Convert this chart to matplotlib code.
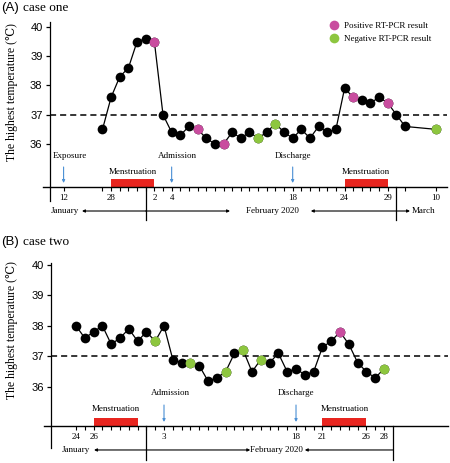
import numpy as np
import pandas as pd
import matplotlib
matplotlib.use("Agg")
import matplotlib.pyplot as plt
from matplotlib.lines import Line2D

plt.rcParams['font.family'] = ['Liberation Serif', 'DejaVu Serif']

# ── Data (day-of-year 2020: Jan d = d, Feb d = 31 + d, Mar d = 60 + d) ─────────
dates_a = pd.date_range("2020-01-27", "2020-03-02").append(pd.DatetimeIndex(["2020-03-10"]))
day_a = np.asarray(dates_a.dayofyear)
temp_a = [36.5, 37.6, 38.3, 38.6, 39.5,
          39.6, 39.5, 37.0, 36.4, 36.3, 36.6, 36.5, 36.2, 36.0, 36.0,
          36.4, 36.2, 36.4, 36.2, 36.4, 36.7, 36.4, 36.2, 36.5, 36.2,
          36.6, 36.4, 36.5, 37.9, 37.6, 37.5, 37.4, 37.6, 37.4,
          37.0, 36.6, 36.5]
pos_a = ["2020-02-02", "2020-02-07", "2020-02-10", "2020-02-25", "2020-02-29"]
neg_a = ["2020-02-14", "2020-02-16", "2020-03-10"]
mens_a = [("2020-01-28", "2020-02-02"), ("2020-02-24", "2020-02-29")]
events_a = [("Exposure", "2020-01-12"), ("Admission", "2020-02-04"), ("Discharge", "2020-02-18")]
ticks_a = ["2020-01-12"] + list(pd.date_range("2020-01-27", "2020-02-29").strftime("%Y-%m-%d")) + ["2020-03-02", "2020-03-10"]
ticklab_a = {"2020-01-12": "12", "2020-01-28": "28", "2020-02-02": "2", "2020-02-04": "4",
             "2020-02-18": "18", "2020-02-24": "24", "2020-02-29": "29", "2020-03-10": "10"}

dates_b = pd.date_range("2020-01-24", "2020-02-28")
day_b = np.asarray(dates_b.dayofyear)
temp_b = [38.0, 37.6, 37.8, 38.0, 37.4, 37.6, 37.9, 37.5,
          37.8, 37.5, 38.0, 36.9, 36.8, 36.8, 36.7, 36.2, 36.3, 36.5,
          37.1, 37.2, 36.5, 36.9, 36.8, 37.1, 36.5, 36.6, 36.4, 36.5,
          37.3, 37.5, 37.8, 37.4, 36.8, 36.5, 36.3, 36.6]
pos_b = ["2020-02-23"]
neg_b = ["2020-02-02", "2020-02-06", "2020-02-10", "2020-02-12", "2020-02-14", "2020-02-28"]
mens_b = [("2020-01-26", "2020-01-31"), ("2020-02-21", "2020-02-26")]
events_b = [("Admission", "2020-02-03"), ("Discharge", "2020-02-18")]
ticks_b = list(pd.date_range("2020-01-24", "2020-02-28").strftime("%Y-%m-%d"))
ticklab_b = {"2020-01-24": "24", "2020-01-26": "26", "2020-02-03": "3", "2020-02-18": "18",
             "2020-02-21": "21", "2020-02-26": "26", "2020-02-28": "28"}

C_POS = "#c94d9f"
C_NEG = "#8dc63f"
C_RED = "#e8251f"
C_BLUE = "#4a8fd4"
SANS = ['Liberation Sans', 'DejaVu Sans']
FS = 6.5


def doy(s):
    return pd.Timestamp(s).dayofyear


# panel A axis is compressed before Jan 27 and after Mar 2
_kd = [-100, 27, 62, 200]
_kp = [27 - 127 * 0.3, 27, 62, 62 + 138 * 0.449]
def fwd(d):
    return np.interp(d, _kd, _kp)
def inv(p):
    return np.interp(p, _kp, _kd)


W, H = 450, 463
fig = plt.figure(figsize=(W / 100, H / 100), dpi=100)


def rect(l, r, t, b):
    return [l / W, 1 - b / H, (r - l) / W, (b - t) / H]


def panel(ax, days, temps, pos, neg, mens, events, ticks, ticklab, ylo, yhi, px_deg, off):
    def ypx(p):  # pixels below the x axis -> data units
        return ylo - p / px_deg

    ax.set_ylim(ylo, yhi)
    for s in ("top", "right", "bottom"):
        ax.spines[s].set_visible(False)
    ax.spines["left"].set_linewidth(0.9)
    ax.set_yticks([36, 37, 38, 39, 40])
    ax.set_yticklabels(["36", "37", "38", "39", "40"], family=SANS, fontsize=8)
    ax.tick_params(axis="y", length=3, width=0.9, pad=2)
    ax.set_xticks([doy(t) for t in ticks])
    ax.set_xticklabels([ticklab.get(t, "") for t in ticks], fontsize=FS)
    ax.tick_params(axis="x", length=3, width=0.8, pad=2.2)

    ax.axhline(37, color="black", lw=1.1, ls=(0, (4, 2.6)))
    ax.plot(days, temps, color="black", lw=0.9, marker="o", ms=7, mec="none", zorder=3)
    lookup = dict(zip(days, temps))
    for lst, c in ((pos, C_POS), (neg, C_NEG)):
        dd = [doy(s) for s in lst]
        ax.plot(dd, [lookup[d] for d in dd], ls="none", marker="o", ms=7, mfc=c, mec="none", zorder=4)

    # x axis line, spine extension
    ax.plot([-0.0164, 1], [ylo, ylo], color="black", lw=1.0, transform=ax.get_yaxis_transform(),
            clip_on=False, zorder=5)
    ax.plot([0, 0], [ylo, ypx(off["spine"])], color="black", lw=0.9,
            transform=ax.get_yaxis_transform(), clip_on=False)

    for a, b in mens:
        x0, x1 = doy(a), doy(b)
        ax.bar(x0, ypx(-8) - ylo, width=x1 - x0, bottom=ylo, align="edge", color=C_RED, zorder=2)
        ax.text((x0 + x1) / 2, ypx(off["mens"]), "Menstruation", ha="center", va="center",
                fontsize=FS)
    for name, d in events:
        x = doy(d)
        ax.annotate("", xy=(x, ypx(-4)), xytext=(x, ypx(off["arr"])),
                    arrowprops=dict(arrowstyle="-|>", color=C_BLUE, lw=0.8, mutation_scale=4,
                                    shrinkA=0, shrinkB=0), annotation_clip=False)
        ax.annotate(name, xy=(x, ypx(off["ev"])), xytext=(0 if name == "Discharge" else 4.5, 0),
                    textcoords="offset points", ha="center", va="center", fontsize=FS,
                    annotation_clip=False)
    return ypx


def month_arrow(ax, x0, x1, y):
    ax.annotate("", xy=(x1, y), xytext=(x0, y),
                arrowprops=dict(arrowstyle="-|>", color="black", lw=0.8, mutation_scale=4,
                                shrinkA=0, shrinkB=0), annotation_clip=False)


# ── Panel A ───────────────────────────────────────────────────────────────────
axA = fig.add_axes(rect(49.5, 447, 22, 187))
axA.set_xscale("function", functions=(fwd, inv))
axA.set_xlim(6.57, 72.8)
ypa = panel(axA, day_a, temp_a, pos_a, neg_a, mens_a, events_a, ticks_a, ticklab_a,
            34.53, 40.17, 29.25, dict(spine=14, mens=-15, arr=-20, ev=-31))
axA.set_ylabel("The highest temperature (\u2103)", fontsize=8.5)
axA.yaxis.set_label_coords(-0.08, 0.576)
ya = ypa(24)
for x in (doy("2020-02-01"), doy("2020-03-01")):
    axA.plot([x, x], [34.53, ypa(33)], color="black", lw=0.9, clip_on=False)
month_arrow(axA, 32, 19.1, ya)
axA.annotate("January", xy=(19.1, ya), xytext=(-2.5, 0), textcoords="offset points",
             ha="right", va="center", fontsize=FS, annotation_clip=False)
month_arrow(axA, 32, 41.75, ya)
axA.text(46.7, ya, "February 2020", ha="center", va="center", fontsize=FS)
month_arrow(axA, 61, 51.1, ya)
month_arrow(axA, 61, 63.27, ya)
axA.annotate("March", xy=(63.27, ya), xytext=(1.5, 0), textcoords="offset points",
             ha="left", va="center", fontsize=FS, annotation_clip=False)
handles = [Line2D([], [], ls="none", marker="o", ms=7, mfc=C_POS, mec="none"),
           Line2D([], [], ls="none", marker="o", ms=7, mfc=C_NEG, mec="none")]
axA.legend(handles, ["Positive RT-PCR result", "Negative RT-PCR result"], loc="upper left",
           bbox_to_anchor=(0.704, 1.0), frameon=False, fontsize=FS, handlelength=1,
           handletextpad=0.6, borderpad=0, borderaxespad=0, labelspacing=0.45)

# ── Panel B ───────────────────────────────────────────────────────────────────
axB = fig.add_axes(rect(51, 448, 263, 426))
axB.set_xlim(21.16, 66.27)
ypb = panel(axB, day_b, temp_b, pos_b, neg_b, mens_b, events_b, ticks_b, ticklab_b,
            34.73, 40.05, 30.67, dict(spine=22, mens=-17, arr=-21, ev=-33))
axB.set_ylabel("The highest temperature (\u2103)", fontsize=8.5)
axB.yaxis.set_label_coords(-0.084, 0.589)
yb = ypb(24)
for x in (doy("2020-02-01"), doy("2020-02-29")):
    axB.plot([x, x], [34.73, ypb(34)], color="black", lw=0.9, clip_on=False)
month_arrow(axB, 32, 26.05, yb)
axB.annotate("January", xy=(26.05, yb), xytext=(-3, 0), textcoords="offset points",
             ha="right", va="center", fontsize=FS, annotation_clip=False)
month_arrow(axB, 32, 43.8, yb)
axB.text(46.8, yb, "February 2020", ha="center", va="center", fontsize=FS)
month_arrow(axB, 60, 50.0, yb)

# titles
for ytop, letter, name in ((8, "(A)", "case one"), (242, "(B)", "case two")):
    fig.text(1 / W, 1 - ytop / H, letter, family=SANS, fontsize=9.5, va="center", ha="left")
    fig.text(23 / W, 1 - ytop / H, name, fontsize=9.5, va="center", ha="left")

fig.savefig("out.png", dpi=100)
